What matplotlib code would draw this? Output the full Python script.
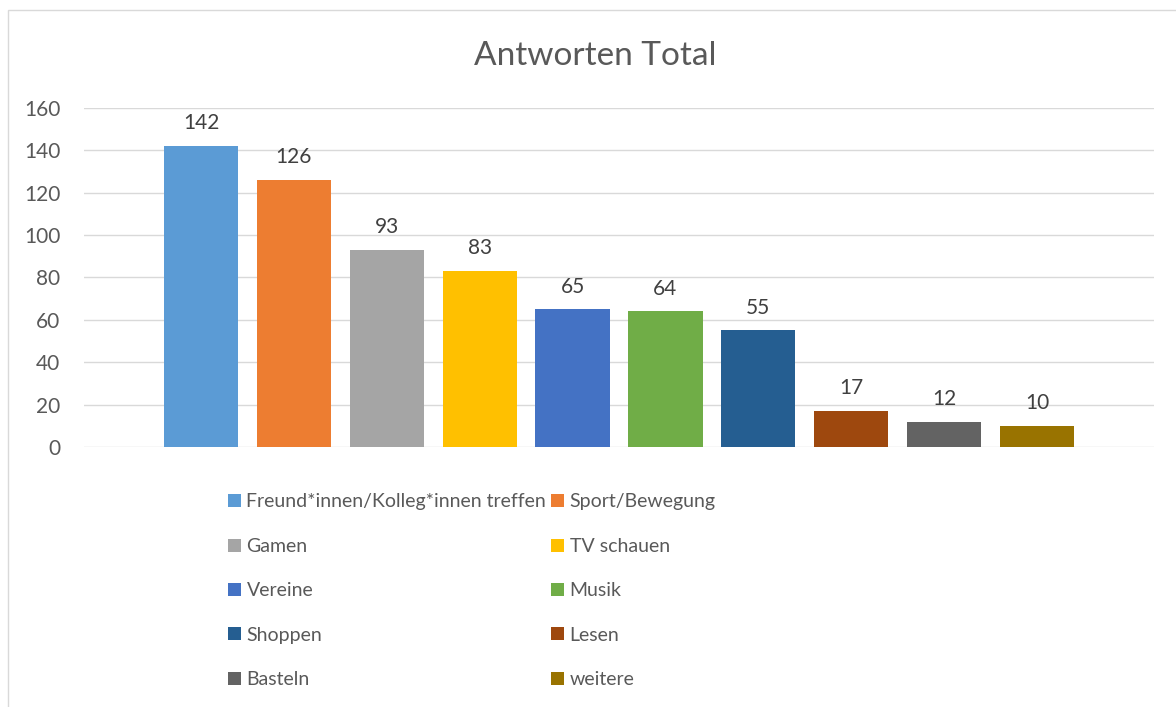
import numpy as np
import matplotlib
matplotlib.use("Agg")
import matplotlib.pyplot as plt
from matplotlib.patches import Rectangle

# data
categories = ["Freund*innen/Kolleg*innen treffen", "Sport/Bewegung", "Gamen", "TV schauen",
              "Vereine", "Musik", "Shoppen", "Lesen", "Basteln", "weitere"]
values = [142, 126, 93, 83, 65, 64, 55, 17, 12, 10]
colors = ["#5B9BD5", "#ED7D31", "#A5A5A5", "#FFC000", "#4472C4",
          "#70AD47", "#255E91", "#9E480E", "#636363", "#997300"]
yticks = [0, 20, 40, 60, 80, 100, 120, 140, 160]

plt.rcParams['font.family'] = ['Lato', 'DejaVu Sans']
txt = "#595959"

W, H = 1176, 707
fig = plt.figure(figsize=(W / 100, H / 100), dpi=100)

# chart border (only top and left edges visible in the crop)
fig.add_artist(Rectangle((8 / W, -0.1), 1.2, 1.1 - 10 / H, transform=fig.transFigure,
                         fill=False, edgecolor="#D9D9D9", linewidth=1.0))

ax = fig.add_axes([84 / W, 1 - 447 / H, (1154 - 84) / W, (447 - 108) / H])
x = np.arange(len(values))
bars = ax.bar(x, values, width=0.8, color=colors, zorder=2)

for xi, v in zip(x, values):
    ax.annotate(str(v), (xi, v), xytext=(0, 12), textcoords="offset points",
                ha="center", va="baseline", fontsize=15, color="#404040")

ax.set_xlim(-1.26, 9 + 1.26)
ax.set_ylim(0, 160)
ax.set_yticks(yticks)
ax.set_xticks([])
ax.yaxis.grid(True, color="#D9D9D9", linewidth=1.0, zorder=0)
ax.tick_params(axis="y", length=0, labelsize=15, labelcolor=txt, pad=17)
for s in ax.spines.values():
    s.set_visible(False)

fig.text(595 / W, 1 - 65 / H, "Antworten Total", ha="center", va="baseline",
         fontsize=24, color=txt)

# legend fills row-wise in the original, matplotlib fills column-wise
order = [0, 2, 4, 6, 8, 1, 3, 5, 7, 9]
leg = fig.legend([bars[i] for i in order], [categories[i] for i in order],
                 ncol=2, loc="upper left", bbox_to_anchor=(228 / W, 1 - 493.5 / H),
                 frameon=False, fontsize=14, handlelength=0.65, handleheight=0.65,
                 handletextpad=0.3, columnspacing=0.25, labelspacing=1.41,
                 borderpad=0, borderaxespad=0)
for t in leg.get_texts():
    t.set_color(txt)

fig.savefig("out.png", dpi=100, facecolor="white")
